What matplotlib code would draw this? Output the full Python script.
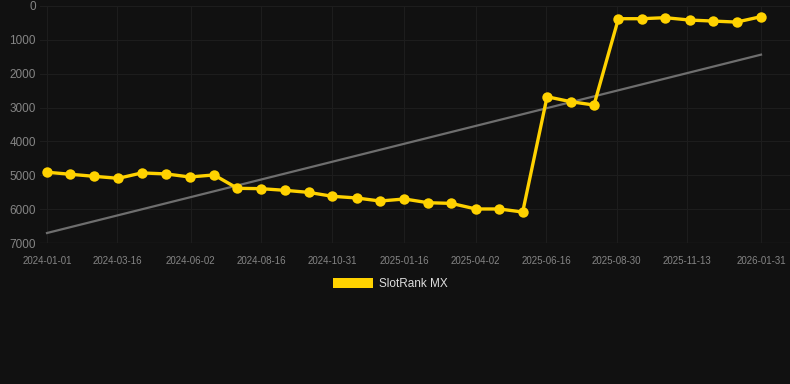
import numpy as np
import pandas as pd
import matplotlib
matplotlib.use("Agg")
import matplotlib.pyplot as plt
import matplotlib.dates as mdates
from matplotlib.patches import Patch

plt.rcParams['font.family'] = ['Liberation Sans', 'DejaVu Sans']

# data
dates = ['2024-01-01', '2024-01-26', '2024-02-20', '2024-03-17', '2024-04-11',
         '2024-05-07', '2024-06-01', '2024-06-27', '2024-07-22', '2024-08-16',
         '2024-09-11', '2024-10-06', '2024-10-31', '2024-11-26', '2024-12-21',
         '2025-01-16', '2025-02-10', '2025-03-07', '2025-04-02', '2025-04-27',
         '2025-05-22', '2025-06-17', '2025-07-12', '2025-08-06', '2025-09-01',
         '2025-09-26', '2025-10-21', '2025-11-16', '2025-12-11', '2026-01-05',
         '2026-01-31']
rank = [4910, 4970, 5030, 5090, 4930, 4960, 5050, 4990, 5385, 5395,
        5445, 5505, 5620, 5670, 5760, 5700, 5810, 5830, 5995, 5995,
        6085, 2680, 2825, 2925, 375, 375, 345, 415, 445, 475, 315]
trend_dates = ['2024-01-01', '2026-01-31']
trend_vals = [6705, 1437]
tick_dates = ['2024-01-01', '2024-03-16', '2024-06-02', '2024-08-16', '2024-10-31',
              '2025-01-16', '2025-04-02', '2025-06-16', '2025-08-30', '2025-11-13',
              '2026-01-31']
y_ticks = [0, 1000, 2000, 3000, 4000, 5000, 6000, 7000]
series_name = 'SlotRank MX'

bg = '#111111'
yellow = '#FFD200'

x = pd.to_datetime(dates)
tx = pd.to_datetime(trend_dates)
xt = pd.to_datetime(tick_dates)

fig = plt.figure(figsize=(7.9, 3.84), dpi=100, facecolor=bg)
ax = fig.add_axes([40 / 790, 1 - 243 / 384, 750 / 790, 237 / 384])
ax.set_facecolor(bg)

ax.plot(tx, trend_vals, color='#6e6e6e', lw=1.6, zorder=2)
ax.plot(x, rank, color=yellow, lw=2.4, marker='o', ms=7.5,
        markeredgewidth=0, zorder=3)

x0 = mdates.date2num(pd.Timestamp('2024-01-01'))
x1 = mdates.date2num(pd.Timestamp('2026-01-31'))
dpp = (x1 - x0) / 714
ax.set_xlim(x0 - 7 * dpp, x1 + 29 * dpp)
ax.set_ylim(7000, 0)

ax.set_xticks(xt)
ax.set_xticklabels(tick_dates)
ax.set_yticks(y_ticks)
ax.set_yticklabels([str(v) for v in y_ticks])
ax.tick_params(axis='x', length=0, pad=9, labelsize=7, labelcolor='#858585')
ax.tick_params(axis='y', length=0, pad=3, labelsize=8.5, labelcolor='#858585')
ax.grid(True, color='#1d1d1d', lw=0.8)
ax.axhline(7000, color='#2a2a2a', lw=0.9, zorder=1)
for s in ax.spines.values():
    s.set_visible(False)

handle = Patch(facecolor=yellow, edgecolor='none')
fig.legend([handle], [series_name], loc='center',
           bbox_to_anchor=(390 / 790, 1 - 284 / 384), frameon=False,
           fontsize=8.5, labelcolor='#dddddd', handlelength=3.4,
           handleheight=1.0, handletextpad=0.5)

fig.savefig('out.png', dpi=100, facecolor=bg)
